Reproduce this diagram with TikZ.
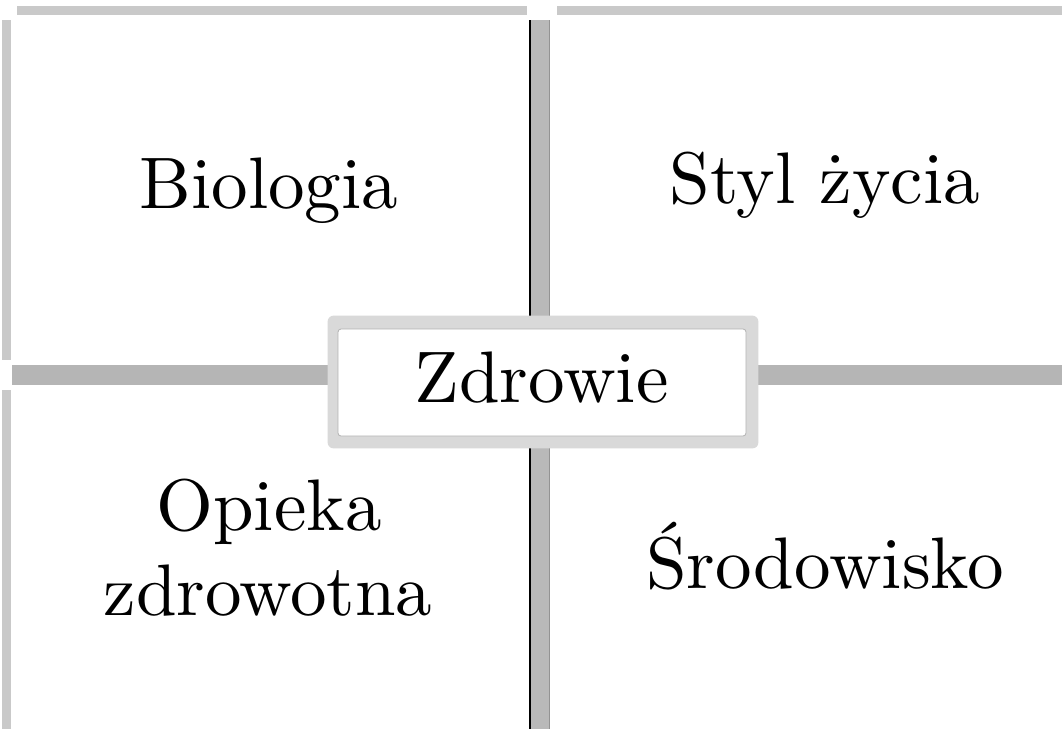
\documentclass[tikz,border=0pt]{standalone}
\usepackage{fontspec}
\setmainfont{lmroman10-regular}[Extension=.otf]
\begin{document}
\begin{tikzpicture}[x=1pt,y=-1pt,
  lbl/.style={anchor=base,inner sep=0pt,font=\fontsize{73}{85}\selectfont},
  edgestrip/.style={fill=gray!42,draw=none},
  hbar/.style={draw=gray!58,line width=20pt},
  vbar/.style={draw=gray!55,line width=21pt},
  center/.style={draw=gray!60,line width=0.8pt,fill=white,rounded corners=3pt,minimum width=408pt,minimum height=107pt,inner sep=0pt}
]
\useasboundingbox (0,0) rectangle (1062,729);
\fill[white] (0,0) rectangle (1062,729);
% outer edge strips
\fill[edgestrip] (17,6) rectangle (527,15);
\fill[edgestrip] (557,6) rectangle (1062,15);
\fill[edgestrip] (2,20) rectangle (11,360);
\fill[edgestrip] (2,390) rectangle (11,729);
% coordinates for bar ends
\coordinate (vt) at (539.5,20);
\coordinate (vb) at (539.5,729);
\coordinate (hl) at (12,375);
\coordinate (hr) at (1062,375);
% central node placement (drawn later)
\path (542,382.5) node[center,draw=none,fill=none] (zpos) {};
% vertical bar
\draw[vbar] (vt) -- (vb);
\draw[black,line width=2pt] ([xshift=-9.5pt]vt) -- ([xshift=-9.5pt]vb);
\draw[gray!85,line width=1pt] ([xshift=10pt]vt) -- ([xshift=10pt]vb);
% horizontal bars
\draw[hbar] (hl) -- (hl -| zpos.west);
\draw[hbar] (hr -| zpos.east) -- (hr);
% halo + central box
\fill[gray!30,rounded corners=6pt] ([shift={(-10pt,13pt)}]zpos.north west) rectangle ([shift={(12pt,-12pt)}]zpos.south east);
\node[center] (z) at (542,382.5) {};
\node[lbl] (zt) at (541.5,402) {Zdrowie};
% quadrant labels
\node[lbl] (bio) at (269,208) {Biologia};
\node[lbl] (styl) at (825,203) {Styl życia};
\node[lbl] (op) at (269,530) {Opieka};
\node[lbl] (zd) at (268,615) {zdrowotna};
\node[lbl] (sr) at (825,588) {Środowisko};
\end{tikzpicture}
\end{document}
